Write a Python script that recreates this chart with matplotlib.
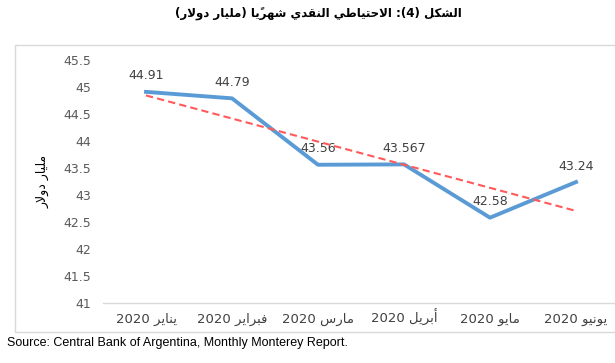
import matplotlib
matplotlib.use("Agg")
import matplotlib.pyplot as plt
import numpy as np
from matplotlib.patches import Rectangle

months = ["يناير", "فبراير", "مارس", "أبريل", "مايو", "يونيو"]
year = "2020"
reserves = [44.91, 44.79, 43.56, 43.567, 42.58, 43.24]
value_labels = ["44.91", "44.79", "43.56", "43.567", "42.58", "43.24"]
yticks = [41, 41.5, 42, 42.5, 43, 43.5, 44, 44.5, 45, 45.5]
ytick_labels = ["41", "41.5", "42", "42.5", "43", "43.5", "44", "44.5", "45", "45.5"]
title = "الشكل (4): الاحتياطي النقدي شهريًا (مليار دولار)"
ylabel = "مليار دولار"
source = "Source: Central Bank of Argentina, Monthly Monterey Report."

# matplotlib has no arabic shaping, so do a small one by hand
# letter: (isolated, final, initial, medial); two forms = right-joining only
FORMS = {
    "ا": (0xFE8D, 0xFE8E), "أ": (0xFE83, 0xFE84), "د": (0xFEA9, 0xFEAA),
    "ر": (0xFEAD, 0xFEAE), "و": (0xFEED, 0xFEEE),
    "ب": (0xFE8F, 0xFE90, 0xFE91, 0xFE92), "ت": (0xFE95, 0xFE96, 0xFE97, 0xFE98),
    "ح": (0xFEA1, 0xFEA2, 0xFEA3, 0xFEA4), "س": (0xFEB1, 0xFEB2, 0xFEB3, 0xFEB4),
    "ش": (0xFEB5, 0xFEB6, 0xFEB7, 0xFEB8), "ط": (0xFEC1, 0xFEC2, 0xFEC3, 0xFEC4),
    "ف": (0xFED1, 0xFED2, 0xFED3, 0xFED4), "ق": (0xFED5, 0xFED6, 0xFED7, 0xFED8),
    "ك": (0xFED9, 0xFEDA, 0xFEDB, 0xFEDC), "ل": (0xFEDD, 0xFEDE, 0xFEDF, 0xFEE0),
    "م": (0xFEE1, 0xFEE2, 0xFEE3, 0xFEE4), "ن": (0xFEE5, 0xFEE6, 0xFEE7, 0xFEE8),
    "ه": (0xFEE9, 0xFEEA, 0xFEEB, 0xFEEC), "ي": (0xFEF1, 0xFEF2, 0xFEF3, 0xFEF4),
}
LAMALEF = {"ا": (0xFEFB, 0xFEFC), "أ": (0xFEF7, 0xFEF8)}
MARKS = "\u064b\u064c\u064d\u064e\u064f\u0650\u0651\u0652"
MIRROR = {"(": ")", ")": "("}


def shape(s):
    chars = list(s)
    out = []
    i = 0
    n = len(chars)

    def prev_letter(k):
        k -= 1
        while k >= 0 and chars[k] in MARKS:
            k -= 1
        return chars[k] if k >= 0 else None

    def next_letter(k):
        k += 1
        while k < n and chars[k] in MARKS:
            k += 1
        return (chars[k], k) if k < n else (None, None)

    while i < n:
        c = chars[i]
        if c not in FORMS:
            out.append(c)
            i += 1
            continue
        p = prev_letter(i)
        join_prev = p in FORMS and len(FORMS[p]) == 4
        nx, nk = next_letter(i)
        if c == "ل" and nx in LAMALEF:
            out.append(chr(LAMALEF[nx][1 if join_prev else 0]))
            i = nk + 1
            continue
        f = FORMS[c]
        join_next = len(f) == 4 and nx in FORMS
        if join_prev and join_next:
            out.append(chr(f[3]))
        elif join_prev:
            out.append(chr(f[1]))
        elif join_next:
            out.append(chr(f[2]))
        else:
            out.append(chr(f[0]))
        i += 1
    return "".join(out)


def ar(s):
    # shape, then lay out right-to-left; keep digit runs and marks in order
    shaped = shape(s)
    units = []
    for ch in shaped:
        if ch in MARKS and units:
            units[-1] += ch
        else:
            units.append(ch)
    units = [MIRROR.get(u, u) for u in units[::-1]]
    res = []
    run = []
    for u in units:
        if u.isdigit() or (u == "." and run):
            run.append(u)
        else:
            res.extend(run[::-1])
            run = []
            res.append(u)
    res.extend(run[::-1])
    return "".join(res)


plt.rcParams["font.family"] = ["DejaVu Sans"]

fig = plt.figure(figsize=(6.15, 3.63), dpi=100)
fig.patches.append(Rectangle((15 / 615, 1 - 332 / 363), 0.99, (332 - 45) / 363,
                             transform=fig.transFigure, fill=False,
                             edgecolor="#d9d9d9", linewidth=1.0))

ax = fig.add_axes([103 / 615, 1 - 303 / 363, 516 / 615, 243 / 363])
x = np.arange(len(months))
ax.plot(x, reserves, color="#5b9bd5", linewidth=2.8, zorder=3)

slope, icpt = np.polyfit(x, reserves, 1)
ax.plot(x, slope * x + icpt, color="#ff5a5a", linewidth=1.5, linestyle=(0, (3.5, 2)), zorder=4)

for xi, yi, lab in zip(x, reserves, value_labels):
    ax.annotate(lab, (xi, yi), xytext=(0, 11.5), textcoords="offset points",
                ha="center", va="center", fontsize=9, color="#404040")

ax.set_xlim(-0.5, 5.5)
ax.set_ylim(41, 45.5)
ax.set_yticks(yticks)
ax.set_yticklabels(ytick_labels, fontsize=9, color="#595959")
ax.set_xticks(x)
ax.set_xticklabels([ar(m + " " + year) for m in months], fontsize=9.5, color="#404040")
for lab in ax.get_xticklabels():
    lab.set_verticalalignment("baseline")
ax.tick_params(axis="both", length=0)
ax.tick_params(axis="y", pad=8.5)
ax.tick_params(axis="x", pad=14.5)
for s in ["top", "right", "left"]:
    ax.spines[s].set_visible(False)
ax.spines["bottom"].set_color("#d9d9d9")
ax.spines["bottom"].set_linewidth(1.0)

fig.text(43 / 615, 1 - 181 / 363, ar(ylabel), rotation=90, ha="center", va="center",
         fontsize=9, color="#000000")
fig.text(318 / 615, 1 - 13 / 363, ar(title), ha="center", va="center",
         fontsize=8.5, fontweight="bold", color="#000000")
fig.text(7 / 615, 1 - 343 / 363, source, ha="left", va="center",
         fontsize=9, family="Liberation Sans", color="#000000")

fig.savefig("out.png", dpi=100)
